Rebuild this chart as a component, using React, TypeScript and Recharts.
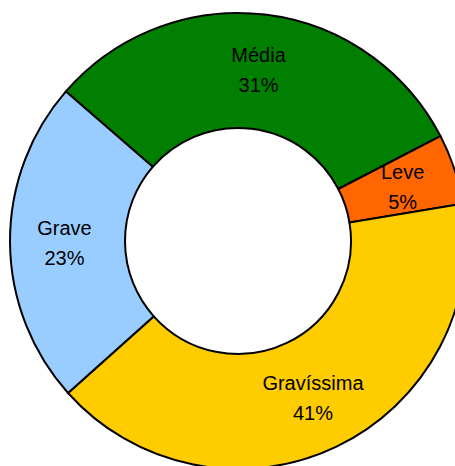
import { PieChart, Pie, Cell } from 'recharts'

const names = ['Média', 'Leve', 'Gravíssima', 'Grave']
const shares = [31, 5, 41, 23]
const colors = ['#007f00', '#ff6600', '#ffcc00', '#99ccff']

const data = names.map((n, i) => ({ name: n, value: shares[i] }))

const RAD = Math.PI / 180

function renderLabel(p: any) {
  const { cx, cy, midAngle, innerRadius, outerRadius, name, percent } = p
  const r = (innerRadius + outerRadius) / 2 + 3
  const x = cx + r * Math.cos(-midAngle * RAD)
  const y = cy + r * Math.sin(-midAngle * RAD)
  return (
    <text x={x} y={y} textAnchor="middle" fill="#000" fontSize={20} fontFamily="Liberation Sans, Arial, sans-serif">
      <tspan x={x} dy={-7}>{name}</tspan>
      <tspan x={x} dy={30}>{`${Math.round(percent * 100)}%`}</tspan>
    </text>
  )
}

export default function App() {
  return (
    <div style={{ position: 'absolute', left: 0, top: 0, width: 455, height: 466, background: '#fff' }}>
      <PieChart width={455} height={466} margin={{ top: 0, right: 0, bottom: 0, left: 0 }}>
        <Pie
          data={data}
          dataKey="value"
          nameKey="name"
          cx={238}
          cy={241}
          innerRadius={113}
          outerRadius={228}
          startAngle={139}
          endAngle={-221}
          stroke="#000"
          strokeWidth={2}
          label={renderLabel}
          labelLine={false}
          isAnimationActive={false}
        >
          {data.map((d, i) => <Cell key={d.name} fill={colors[i]} />)}
        </Pie>
      </PieChart>
    </div>
  )
}
